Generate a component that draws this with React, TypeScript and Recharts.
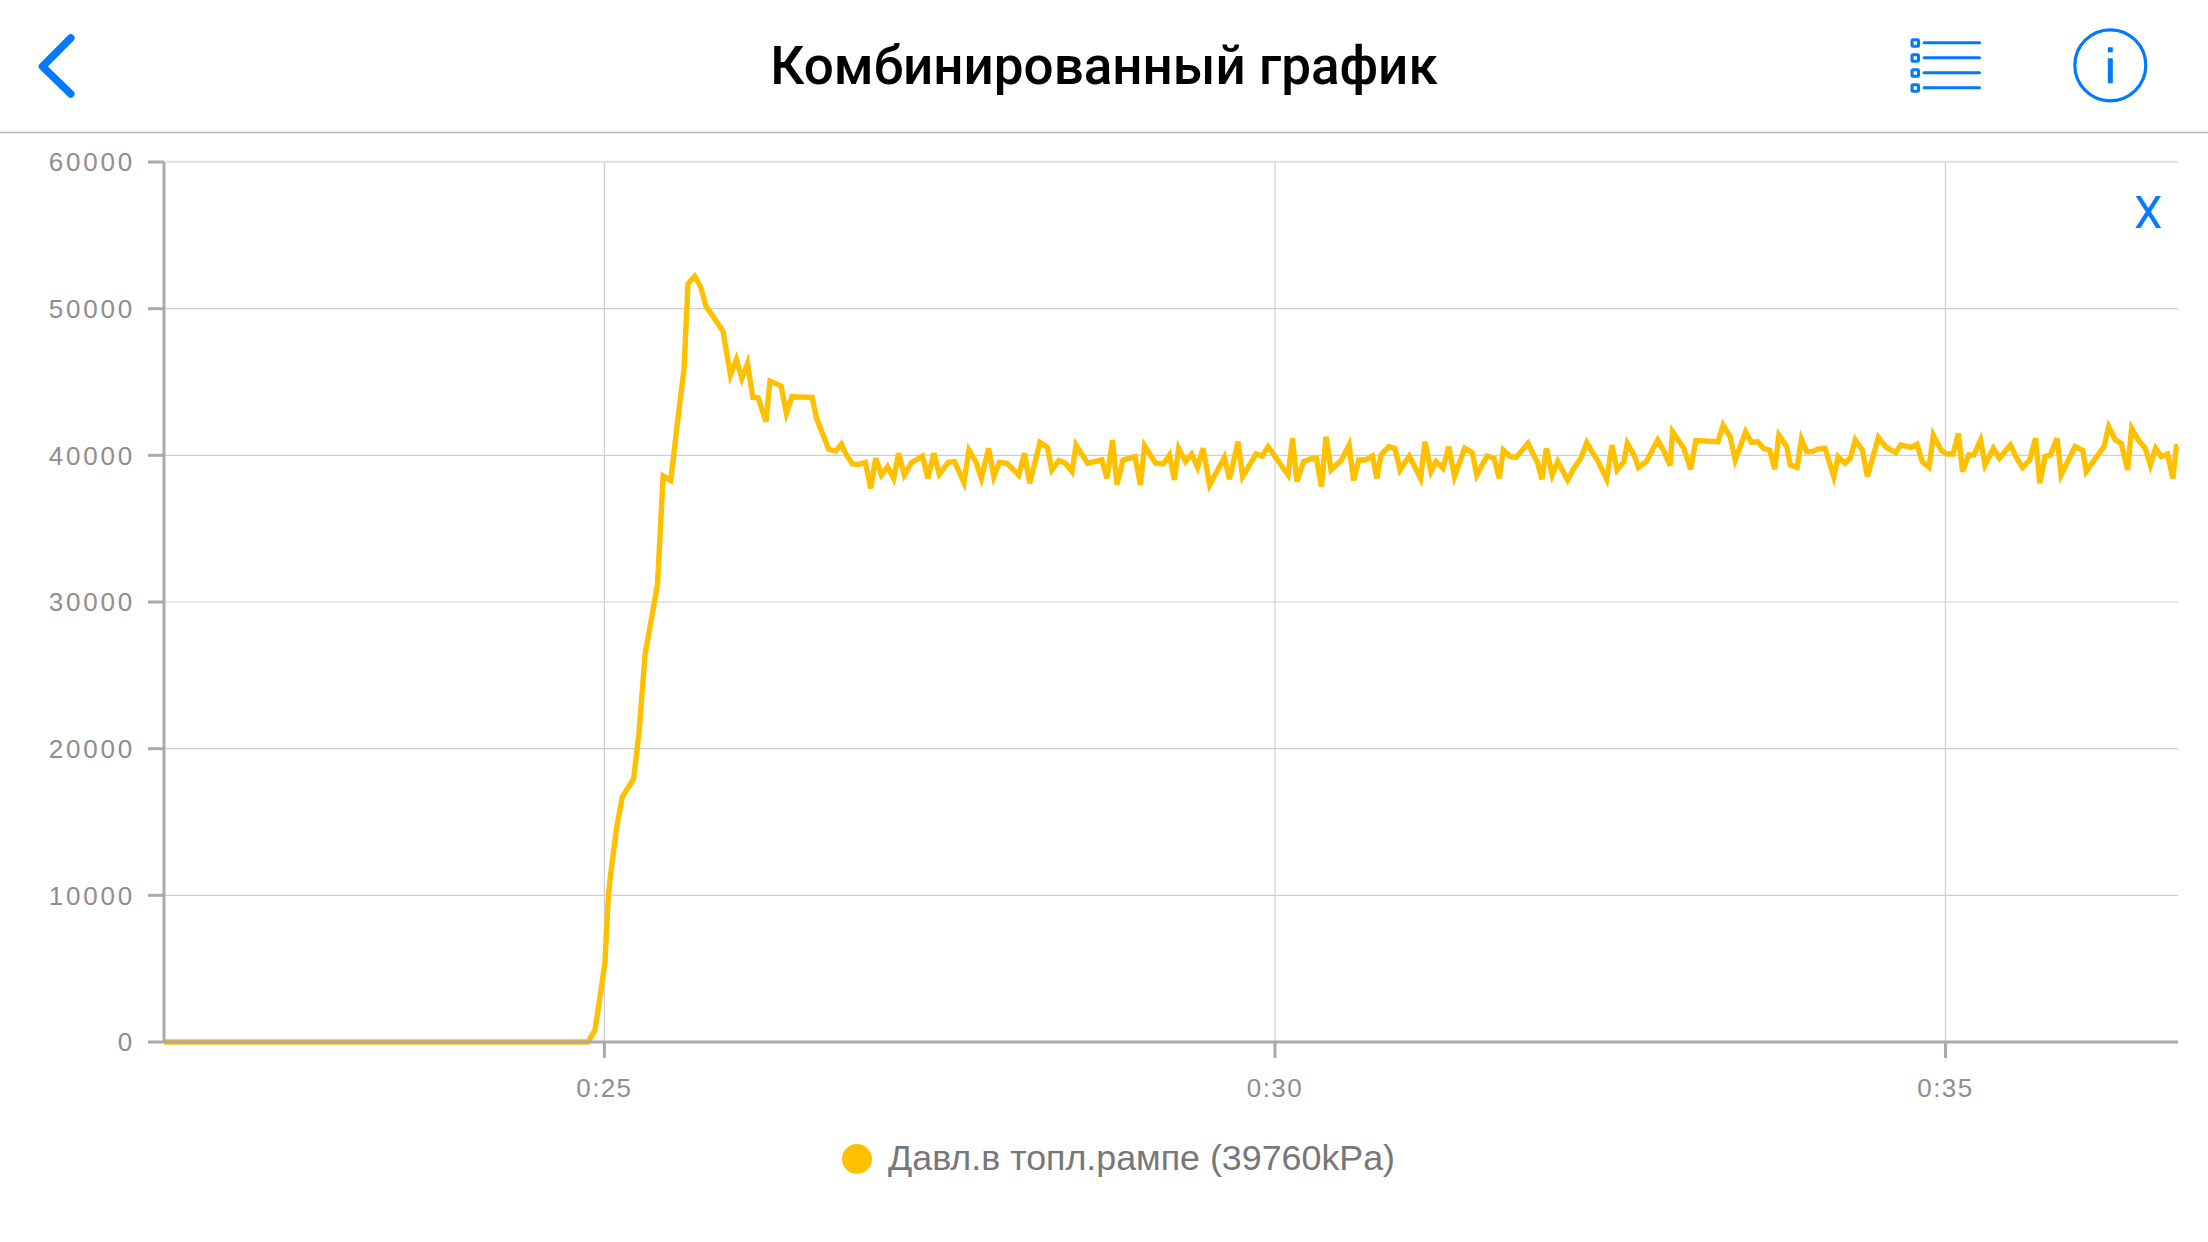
import { CartesianGrid, Legend, Line, LineChart, ReferenceLine, XAxis, YAxis } from "recharts";

const SERIES_NAME = "Давл.в топл.рампе (39760kPa)";
const TITLE = "Комбинированный график";

const X_MIN = 21.716;
const X_MAX = 36.734;
const xTicks = [25, 30, 35];
const yTicks = [0, 10000, 20000, 30000, 40000, 50000, 60000];
const gridValues = [0, 10000, 20000, 30000, 40000, 50000];

// seconds
const times = [
    21.716, 24.878, 24.93, 24.967, 25.004, 25.029, 25.047, 25.092, 25.133, 25.218, 25.258, 25.303, 25.396, 25.438,
    25.494, 25.556, 25.594, 25.623, 25.673, 25.718, 25.758, 25.884, 25.94, 25.984, 26.025, 26.067, 26.107, 26.147,
    26.205, 26.235, 26.317, 26.357, 26.398, 26.548, 26.584, 26.672, 26.725, 26.767, 26.805, 26.85, 26.898, 26.946,
    26.986, 27.023, 27.066, 27.111, 27.157, 27.194, 27.236, 27.289, 27.372, 27.412, 27.457, 27.497, 27.564, 27.611,
    27.681, 27.718, 27.769, 27.811, 27.865, 27.904, 27.945, 28.002, 28.089, 28.133, 28.171, 28.248, 28.304, 28.336,
    28.389, 28.438, 28.487, 28.517, 28.603, 28.709, 28.748, 28.789, 28.822, 28.867, 28.957, 28.997, 29.028, 29.11,
    29.168, 29.213, 29.25, 29.282, 29.333, 29.379, 29.423, 29.464, 29.513, 29.623, 29.661, 29.725, 29.759, 29.859,
    29.905, 29.949, 30.098, 30.131, 30.163, 30.214, 30.265, 30.309, 30.347, 30.381, 30.418, 30.496, 30.553, 30.586,
    30.625, 30.676, 30.727, 30.761, 30.791, 30.848, 30.894, 30.933, 31.002, 31.086, 31.119, 31.164, 31.201, 31.253,
    31.297, 31.339, 31.415, 31.472, 31.505, 31.581, 31.634, 31.673, 31.703, 31.755, 31.798, 31.887, 31.96, 31.991,
    32.024, 32.068, 32.109, 32.183, 32.23, 32.281, 32.325, 32.41, 32.474, 32.513, 32.551, 32.602, 32.628, 32.679,
    32.71, 32.769, 32.854, 32.897, 32.947, 32.965, 33.049, 33.1, 33.138, 33.304, 33.342, 33.394, 33.433, 33.51,
    33.553, 33.599, 33.643, 33.689, 33.727, 33.758, 33.817, 33.842, 33.894, 33.926, 33.965, 34.008, 34.047, 34.102,
    34.167, 34.199, 34.252, 34.29, 34.328, 34.38, 34.418, 34.456, 34.5, 34.553, 34.628, 34.666, 34.746, 34.788,
    34.827, 34.878, 34.909, 34.967, 35.007, 35.057, 35.096, 35.127, 35.173, 35.211, 35.262, 35.295, 35.357, 35.402,
    35.485, 35.531, 35.574, 35.628, 35.672, 35.703, 35.743, 35.782, 35.832, 35.863, 35.966, 36.024, 36.05, 36.119,
    36.182, 36.217, 36.267, 36.311, 36.358, 36.388, 36.439, 36.49, 36.528, 36.567, 36.61, 36.656, 36.696, 36.722,
    36.734,
];

// kPa
const pressures = [
    0, 0, 820, 3070, 5390, 9900, 11500, 14670, 16700, 17950, 21100, 26400, 31200, 38600,
    38280, 43080, 45900, 51700, 52200, 51480, 50160, 48480, 45470, 46530, 45240, 46260, 43950, 43920,
    42290, 45060, 44740, 42860, 43990, 43950, 42470, 40410, 40290, 40770, 40020, 39410, 39390, 39520,
    37750, 39800, 38660, 39230, 38430, 40140, 38660, 39500, 39950, 38430, 40140, 38710, 39520, 39570,
    38140, 40360, 39570, 38430, 40480, 38550, 39520, 39460, 38660, 40140, 38090, 40880, 40540, 39000,
    39640, 39460, 38890, 40700, 39460, 39680, 38430, 41040, 37980, 39680, 39910, 37980, 40650, 39460,
    39410, 40020, 38320, 40480, 39570, 40090, 39180, 40480, 37980, 39860, 38370, 40930, 38550, 40090,
    39950, 40590, 38660, 41160, 38210, 39570, 39750, 39800, 37870, 41270, 39000, 39680, 40700, 38280,
    39680, 39680, 39950, 38430, 40020, 40590, 40480, 39000, 39950, 38430, 40930, 38890, 39570, 39120,
    40590, 38550, 40480, 40180, 38660, 39950, 39800, 38430, 40360, 39910, 39860, 40820, 39460, 38370,
    40480, 38660, 39570, 38320, 39120, 39800, 40860, 39570, 38370, 40700, 39000, 39570, 40820, 40020,
    39180, 39570, 41040, 40360, 39300, 41610, 40480, 39050, 41000, 40930, 42060, 41270, 39680, 41610,
    40880, 40930, 40480, 40360, 39050, 41380, 40590, 39340, 39180, 41090, 40250, 40250, 40430, 40480,
    38550, 39910, 39460, 39800, 41040, 40360, 38550, 39800, 41220, 40590, 40180, 40700, 40540, 40750,
    39570, 39180, 41380, 40360, 40090, 40090, 41500, 38890, 40020, 40020, 41040, 39340, 40480, 39800,
    40700, 39800, 39180, 39680, 41160, 38100, 39910, 40020, 41160, 38660, 40590, 40320, 38890, 39800,
    40590, 41950, 41040, 40820, 39000, 41840, 41040, 40480, 39340, 40480, 39910, 40090, 38430, 40590,
    40590,
];

const chartData = times.map((t, i) => ({ t, pressure: pressures[i] }));

const BLUE = "#007aff";
const AXIS = "#aaaaaa";
const LINE = "#ffc000";
const FONT = '"Liberation Sans", Arial, sans-serif';

function LegendRow({ payload }: { payload?: { value: string; color: string }[] }) {
    return (
        <div style={{ display: "flex", alignItems: "center", fontFamily: FONT }}>
            {(payload ?? []).map((p) => (
                <div key={p.value} style={{ display: "flex", alignItems: "center" }}>
                    <span style={{ width: 30, height: 30, borderRadius: "50%", background: p.color, marginRight: 16 }} />
                    <span style={{ fontSize: 35.8, color: "#777777", whiteSpace: "nowrap" }}>{p.value}</span>
                </div>
            ))}
        </div>
    );
}

function HeaderIcons() {
    return (
        <svg width={2208} height={140} style={{ position: "absolute", left: 0, top: 0 }}>
            <path d="M70.8 38 L42.5 66.5 L70.8 94" fill="none" stroke={BLUE} strokeWidth={7.5} strokeLinecap="round" strokeLinejoin="round" />
            {[42.7, 57.7, 72.7, 87.7].map((y) => (
                <g key={y}>
                    <rect x={1912} y={y - 3} width={6.5} height={6.5} rx={1} fill="#fff" stroke={BLUE} strokeWidth={3} />
                    <line x1={1924} x2={1979.5} y1={y} y2={y} stroke={BLUE} strokeWidth={3} strokeLinecap="round" />
                </g>
            ))}
            <circle cx={2110.3} cy={65.3} r={35.5} fill="none" stroke={BLUE} strokeWidth={3.2} />
            <rect x={2107.8} y={47.3} width={5} height={5} fill={BLUE} />
            <rect x={2107.8} y={58.3} width={5} height={25} fill={BLUE} />
            <line x1={0} x2={2208} y1={132.5} y2={132.5} stroke="#b4b4b4" strokeWidth={1.6} />
        </svg>
    );
}

export default function App() {
    return (
        <div style={{ position: "absolute", left: 0, top: 0, width: 2208, height: 1242, background: "#fff", overflow: "hidden" }}>
            <LineChart
                width={2208}
                height={1242}
                data={chartData}
                margin={{ top: 162, right: 30, bottom: 0, left: 0 }}
                style={{ fontFamily: FONT, position: "absolute", left: 0, top: 0 }}
            >
                <CartesianGrid stroke="#cfcfcf" strokeWidth={1.2} horizontalValues={gridValues} verticalValues={xTicks} />
                <ReferenceLine y={60000} stroke="#e4e4e4" strokeWidth={2.5} />
                <XAxis
                    dataKey="t"
                    type="number"
                    domain={[X_MIN, X_MAX]}
                    ticks={xTicks}
                    tickFormatter={(v: number) => `0:${v}`}
                    height={200}
                    tickSize={16}
                    tickMargin={21}
                    tickLine={{ stroke: AXIS, strokeWidth: 3 }}
                    axisLine={{ stroke: AXIS, strokeWidth: 3 }}
                    tick={{ fontSize: 26, fill: "#8e8e8e", letterSpacing: 1.4 }}
                />
                <YAxis
                    type="number"
                    domain={[0, 60000]}
                    ticks={yTicks}
                    width={164}
                    tickSize={16}
                    tickMargin={13}
                    tickLine={{ stroke: AXIS, strokeWidth: 3 }}
                    axisLine={{ stroke: AXIS, strokeWidth: 3 }}
                    tick={{ fontSize: 26, fill: "#8e8e8e", letterSpacing: 2.8 }}
                />
                <Line
                    type="linear"
                    dataKey="pressure"
                    name={SERIES_NAME}
                    stroke={LINE}
                    strokeWidth={5.4}
                    strokeLinejoin="miter"
                    strokeMiterlimit={4}
                    dot={false}
                    activeDot={false}
                    isAnimationActive={false}
                />
                <Legend
                    layout="horizontal"
                    verticalAlign="middle"
                    align="center"
                    content={(props: any) => <LegendRow payload={props.payload} />}
                    wrapperStyle={{ left: 842, top: 1138, width: 600 }}
                />
            </LineChart>
            <HeaderIcons />
            <div
                style={{
                    position: "absolute",
                    left: 0,
                    width: 2208,
                    top: 30,
                    textAlign: "center",
                    fontFamily: "Roboto, sans-serif",
                    fontWeight: 500,
                    fontSize: 53,
                    lineHeight: "72px",
                    color: "#000",
                }}
            >
                {TITLE}
            </div>
            <div
                style={{
                    position: "absolute",
                    left: 2130,
                    top: 186,
                    width: 36,
                    textAlign: "center",
                    fontFamily: "Roboto, sans-serif",
                    fontWeight: 400,
                    fontSize: 45,
                    lineHeight: "54px",
                    color: BLUE,
                }}
            >
                X
            </div>
        </div>
    );
}
